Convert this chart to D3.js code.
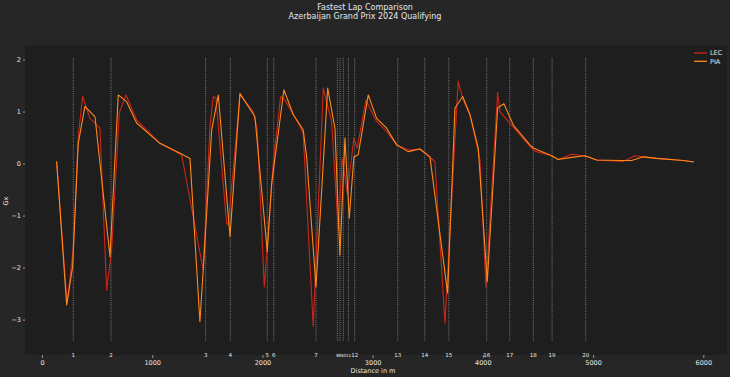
<!DOCTYPE html>
<html>
<head>
<meta charset="utf-8">
<script src="https://cdn.jsdelivr.net/npm/d3@7"></script>
<style>
  body { margin: 0; background: #262626; }
  text { font-family: "DejaVu Sans", sans-serif; fill: #e8e8e8; }
</style>
</head>
<body>
<svg id="chart" width="730" height="377"></svg>
<script>
const drivers = ['LEC', 'PIA'];
const colors = ['#cf2617', '#ff8a1c'];

// distance (m), Gx
const lecDist = [133, 228, 283, 329, 369, 435, 526, 587, 632, 701, 762, 859, 1010, 1070, 1267, 1463, 1524, 1554, 1578, 1675, 1690, 1796, 1917, 1953, 2017, 2098, 2165, 2205, 2325, 2370, 2461, 2552, 2628, 2688, 2724, 2770, 2830, 2860, 2939, 3036, 3127, 3218, 3323, 3429, 3565, 3656, 3776, 3822, 3883, 3974, 4028, 4134, 4155, 4276, 4427, 4472, 4624, 4684, 4805, 4926, 5032, 5273, 5379, 5577, 5818, 5915];
const lecGx = [0.04, -2.68, -1.66, 0.52, 1.29, 0.87, 0.68, -2.43, -1.66, 0.97, 1.32, 0.84, 0.52, 0.39, 0.17, -2.05, 0.71, 1.29, 1.26, -1.15, -1.18, 1.32, 1.0, 0.65, -2.37, 0.0, 1.29, 1.22, 0.78, 0.58, -3.13, 1.45, 0.81, -1.28, 0.1, -0.57, 0.49, 0.3, 1.22, 0.81, 0.62, 0.36, 0.26, 0.28, 0.04, -3.07, 1.58, 1.22, 0.94, 0.07, -2.37, 1.37, 1.0, 0.7, 0.33, 0.24, 0.15, 0.08, 0.18, 0.15, 0.07, 0.04, 0.15, 0.1, 0.06, 0.03];

const piaDist = [133, 224, 278, 329, 390, 481, 617, 692, 768, 859, 1010, 1070, 1252, 1343, 1433, 1463, 1540, 1600, 1706, 1796, 1932, 2044, 2084, 2195, 2280, 2370, 2401, 2486, 2592, 2658, 2703, 2749, 2788, 2830, 2869, 2960, 3036, 3127, 3218, 3323, 3429, 3520, 3680, 3747, 3817, 3883, 3958, 4040, 4134, 4191, 4276, 4427, 4457, 4624, 4684, 4805, 4926, 5032, 5259, 5350, 5455, 5577, 5818, 5915];
const piaGx = [0.04, -2.72, -1.98, 0.39, 1.1, 0.9, -1.79, 1.32, 1.19, 0.78, 0.5, 0.39, 0.2, 0.1, -3.04, -2.04, 0.65, 1.32, -1.4, 1.35, 0.9, -1.69, -0.38, 1.42, 0.94, 0.65, 0.13, -2.37, 1.45, 0.68, -1.76, 0.49, -1.05, 0.13, 0.17, 1.32, 0.87, 0.68, 0.36, 0.23, 0.28, 0.13, -2.49, 1.07, 1.29, 0.94, 0.3, -2.27, 1.07, 1.15, 0.74, 0.36, 0.3, 0.15, 0.08, 0.12, 0.15, 0.07, 0.06, 0.06, 0.13, 0.1, 0.06, 0.03];

const cornerNums = d3.range(1, 21);
const cornerDist = [284, 626, 1485, 1709, 2044, 2103, 2486, 2680, 2704, 2734, 2780, 2837, 3228, 3473, 3691, 4035, 4244, 4458, 4628, 4933];

const xTicks = [0, 1000, 2000, 3000, 4000, 5000, 6000];
const yTicks = [-3, -2, -1, 0, 1, 2];

const svg = d3.select('#chart');
const plot = { left: 25, right: 727, top: 45, bottom: 355 };

const x = d3.scaleLinear().domain([-154, 6215]).range([plot.left, plot.right]);
const y = d3.scaleLinear().domain([-3.68, 2.28]).range([plot.bottom, plot.top]);

svg.append('rect').attr('width', 730).attr('height', 377).attr('fill', '#262626');
svg.append('rect')
  .attr('x', plot.left).attr('y', plot.top)
  .attr('width', plot.right - plot.left).attr('height', plot.bottom - plot.top)
  .attr('fill', '#1e1e1e');

// Title
svg.append('text').attr('x', 365).attr('y', 10).attr('text-anchor', 'middle')
  .style('font-size', '8px').text('Fastest Lap Comparison');
svg.append('text').attr('x', 365).attr('y', 19).attr('text-anchor', 'middle')
  .style('font-size', '8px').text('Azerbaijan Grand Prix 2024 Qualifying');

// Corner markers
svg.append('g').selectAll('line').data(cornerDist).join('line')
  .attr('x1', d => x(d)).attr('x2', d => x(d))
  .attr('y1', y(2.03)).attr('y2', y(-3.41))
  .attr('stroke', '#8a8a8a').attr('stroke-width', 0.9)
  .attr('stroke-dasharray', '1,1.2');

// tightly packed turns 8-11 overlap in the original too; keep them small
svg.append('g').selectAll('text').data(cornerDist).join('text')
  .attr('x', d => x(d)).attr('y', 356.5).attr('text-anchor', 'middle')
  .style('font-size', (d, i) => (i >= 7 && i <= 10) ? '4.3px' : '5.5px')
  .style('letter-spacing', (d, i) => (i >= 7 && i <= 10) ? '-0.4px' : null)
  .text((d, i) => cornerNums[i]);

// Axes
const xAxis = svg.append('g').attr('transform', `translate(0,${plot.bottom})`)
  .call(d3.axisBottom(x).tickValues(xTicks).tickSize(3).tickPadding(2).tickFormat(d3.format('d')));
xAxis.select('.domain').remove();
xAxis.selectAll('line').attr('stroke', '#e0e0e0').attr('stroke-width', 0.6);
xAxis.selectAll('text').style('font-size', '6.5px').attr('fill', '#e8e8e8');

const yAxis = svg.append('g').attr('transform', `translate(${plot.left},0)`)
  .call(d3.axisLeft(y).tickValues(yTicks).tickSize(2).tickPadding(2).tickFormat(d => d < 0 ? '\u2212' + Math.abs(d) : d));
yAxis.select('.domain').remove();
yAxis.selectAll('line').attr('stroke', '#e0e0e0').attr('stroke-width', 0.6);
yAxis.selectAll('text').style('font-size', '6.5px').attr('fill', '#e8e8e8');

svg.append('text').attr('x', 373).attr('y', 373).attr('text-anchor', 'middle')
  .style('font-size', '6.5px').text('Distance in m');
svg.append('text').attr('transform', 'translate(8,201) rotate(-90)').attr('text-anchor', 'middle')
  .style('font-size', '6.5px').text('Gx');

// Lines
const series = [
  { name: drivers[0], dist: lecDist, gx: lecGx, color: colors[0] },
  { name: drivers[1], dist: piaDist, gx: piaGx, color: colors[1] }
];
const line = d3.line().x(d => x(d[0])).y(d => y(d[1]));

series.forEach(s => {
  svg.append('path')
    .datum(s.dist.map((d, i) => [d, s.gx[i]]))
    .attr('fill', 'none')
    .attr('stroke', s.color)
    .attr('stroke-width', 1.1)
    .attr('stroke-linejoin', 'round')
    .attr('d', line);
});

// Legend
const legend = svg.append('g').attr('transform', 'translate(694,53)');
series.forEach((s, i) => {
  legend.append('line').attr('x1', 0).attr('x2', 13).attr('y1', i * 8.3).attr('y2', i * 8.3)
    .attr('stroke', s.color).attr('stroke-width', 1.3);
  legend.append('text').attr('x', 16).attr('y', i * 8.3 + 2.3)
    .style('font-size', '6.5px').text(s.name);
});
</script>
</body>
</html>
